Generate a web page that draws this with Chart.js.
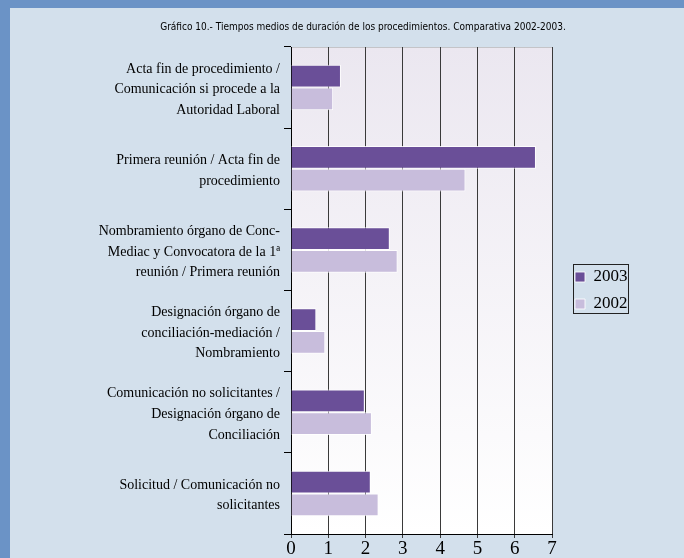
<!DOCTYPE html>
<html>
<head>
<meta charset="utf-8">
<script src="https://cdn.jsdelivr.net/npm/chart.js@4/dist/chart.umd.min.js"></script>
<style>
  html, body { margin: 0; padding: 0; }
  body { width: 684px; height: 558px; background: #6b93c6; overflow: hidden; position: relative; }
  #panel { position: absolute; left: 10px; top: 8px; width: 674px; height: 553px; background: #d3e0ec; }
  #wrap { position: absolute; left: 32px; top: 0; width: 642px; height: 553px; }
</style>
</head>
<body>
<div id="panel"><div id="wrap"><canvas id="c" width="642" height="553"></canvas></div></div>
<script>
const titleText = "Gráfico 10.- Tiempos medios de duración de los procedimientos. Comparativa 2002-2003.";
const categories = [
  ["Acta fin de procedimiento /", "Comunicación si procede a la", "Autoridad Laboral"],
  ["Primera reunión / Acta fin de", "procedimiento"],
  ["Nombramiento órgano de Conc-", "Mediac y Convocatora de la 1ª", "reunión / Primera reunión"],
  ["Designación órgano de", "conciliación-mediación /", "Nombramiento"],
  ["Comunicación no solicitantes /", "Designación órgano de", "Conciliación"],
  ["Solicitud / Comunicación no", "solicitantes"]
];
const seriesNames = ["2003", "2002"];
const values2003 = [1.34, 6.57, 2.65, 0.68, 1.98, 2.14];
const values2002 = [1.13, 4.68, 2.86, 0.92, 2.17, 2.35];
const xTicks = [0, 1, 2, 3, 4, 5, 6, 7];

const serif = "'Liberation Serif', 'DejaVu Serif', serif";

const bgPlugin = {
  id: 'plotBg',
  beforeDraw(chart) {
    const {ctx, chartArea: a} = chart;
    const g = ctx.createLinearGradient(0, a.top, 0, a.bottom);
    g.addColorStop(0, '#ebe7f0');
    g.addColorStop(1, '#ffffff');
    ctx.save();
    ctx.fillStyle = g;
    ctx.fillRect(a.left, a.top, a.right - a.left, a.bottom - a.top);
    ctx.strokeStyle = '#c4c4c8';
    ctx.lineWidth = 1;
    ctx.beginPath();
    ctx.moveTo(a.left, Math.round(a.top) + 0.5);
    ctx.lineTo(a.right, Math.round(a.top) + 0.5);
    ctx.stroke();
    ctx.restore();
  }
};

const legendBorder = {
  id: 'legendBorder',
  afterDraw(chart) {
    const hb = chart.legend && chart.legend.legendHitBoxes;
    if (!hb || hb.length < 2) return;
    const {ctx} = chart;
    const l = Math.round(hb[0].left - 2) + 0.5;
    const t = Math.round(hb[0].top - 4.5) + 0.5;
    const r = Math.round(hb[0].left + 53) + 0.5;
    const b = Math.round(hb[1].top + hb[1].height) + 0.5;
    ctx.save();
    ctx.strokeStyle = '#222';
    ctx.lineWidth = 1;
    ctx.strokeRect(l, t, r - l, b - t);
    ctx.restore();
  }
};

new Chart(document.getElementById('c'), {
  type: 'bar',
  data: {
    labels: categories,
    datasets: [
      { label: seriesNames[0], data: values2003, backgroundColor: '#6a4f98', borderColor: 'rgba(255,255,255,0.85)', borderWidth: 1, borderSkipped: 'start', categoryPercentage: 0.56, barPercentage: 1.0 },
      { label: seriesNames[1], data: values2002, backgroundColor: '#c8bddc', borderColor: 'rgba(255,255,255,0.85)', borderWidth: 1, borderSkipped: 'start', categoryPercentage: 0.56, barPercentage: 1.0 }
    ]
  },
  options: {
    indexAxis: 'y',
    responsive: false,
    animation: false,
    devicePixelRatio: 1,
    layout: { padding: { left: 46.5, right: 46.5, top: 0, bottom: 0 } },
    plugins: {
      title: {
        display: true,
        text: titleText,
        color: '#000',
        font: { family: "'Liberation Sans Narrow', 'DejaVu Sans Condensed', sans-serif", size: 10, weight: 'normal', lineHeight: 1.2 },
        padding: { top: 13, bottom: 14 }
      },
      legend: {
        display: true,
        position: 'right',
        fullSize: false,
        labels: {
          color: '#000',
          font: { family: serif, size: 17 },
          boxWidth: 10,
          boxHeight: 10,
          padding: 10
        }
      },
      tooltip: { enabled: false }
    },
    scales: {
      x: {
        type: 'linear',
        position: 'bottom',
        min: 0,
        max: 7,
        afterBuildTicks(scale) { scale.ticks = xTicks.map(v => ({ value: v })); },
        ticks: { color: '#000', font: { family: serif, size: 19, lineHeight: 1 }, padding: 2 },
        grid: { color: '#3a3a3a', lineWidth: 1, drawTicks: true, tickLength: 4 },
        border: { display: true, color: '#000', width: 1 }
      },
      y: {
        type: 'category',
        position: 'left',
        afterFit(scale) { scale.width = 202.5; scale.paddingTop = 0; scale.paddingBottom = 0; },
        ticks: { color: '#000', font: { family: serif, size: 14, lineHeight: 1.47 }, padding: 4, autoSkip: false, labelOffset: 2 },
        grid: { offset: true, drawOnChartArea: false, drawTicks: true, tickLength: 7, color: '#000' },
        border: { display: true, color: '#000', width: 1 }
      },
      pad: {
        type: 'linear',
        axis: 'y',
        position: 'right',
        display: true,
        grid: { display: false, drawTicks: false },
        border: { display: false },
        ticks: { display: false },
        afterFit(scale) { scale.width = 13; }
      }
    }
  },
  plugins: [bgPlugin, legendBorder]
});
</script>
</body>
</html>
